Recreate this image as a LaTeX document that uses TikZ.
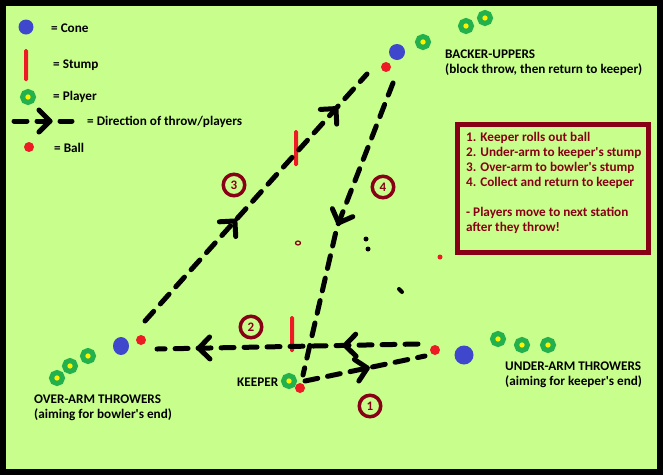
\documentclass[tikz,border=0pt]{standalone}
\usepackage{fontspec}
\setmainfont{Carlito}
\usetikzlibrary{decorations.markings, arrows.meta, shapes.geometric}

\definecolor{field}{RGB}{200,255,140}
\definecolor{coneblue}{RGB}{63,72,204}
\definecolor{ballred}{RGB}{237,28,36}
\definecolor{playergreen}{RGB}{34,177,76}
\definecolor{playeryellow}{RGB}{255,242,0}
\definecolor{boxred}{RGB}{136,0,21}

\begin{document}
\begin{tikzpicture}[x=1pt, y=-1pt,
    cone/.style={circle, fill=coneblue, inner sep=0pt, minimum size=16pt},
    ball/.style={circle, fill=ballred, inner sep=0pt, minimum size=10pt},
    player/.style={circle, fill=playeryellow, draw=playergreen, line width=5pt, inner sep=0pt, minimum size=11pt},
    stump/.style={rectangle, fill=ballred, inner sep=0pt, minimum width=4pt, minimum height=36pt, rounded corners=1.5pt},
    throw/.style={line width=5pt, line cap=round, dash pattern=on 13pt off 10pt},
    chevron/.style={postaction={decorate, decoration={markings, mark=at position #1 with {\draw[solid, line width=5pt, line cap=round, line join=round] (-11pt,-11pt) -- (0pt,0pt) -- (-11pt,11pt);}}}},
    numring/.style={circle, draw=boxred, line width=3.5pt, text=boxred, minimum size=21.5pt, inner sep=0pt, font=\bfseries\fontsize{13}{13}\selectfont},
    txt/.style={anchor=west, inner sep=0pt, font=\bfseries\fontsize{13.2}{15}\selectfont},
    block/.style={anchor=north west, align=left, inner sep=0pt, font=\bfseries\fontsize{13.2}{15}\selectfont}
]
\useasboundingbox (0,0) rectangle (663,475);
\fill[field] (0,0) rectangle (663,475);
\draw[line width=6pt] (3,3) rectangle (660,472);

% legend
\node[cone, minimum size=15pt] (legcone) at (26,27) {};
\node[txt] (legconetxt) at (51,28) {= Cone};
\node[stump, minimum height=32pt] (legstump) at (26,65) {};
\node[txt] (legstumptxt) at (53,65) {= Stump};
\node[player] (legplayer) at (28,97) {};
\node[txt] (legplayertxt) at (53,97) {= Player};
\coordinate (legA) at (14,121);
\coordinate (legB) at (72,121);
\draw[throw, chevron=0.62] (legA) -- (legB);
\node[txt] (legarrowtxt) at (87,122) {= Direction of throw/players};
\node[ball] (legball) at (29,147) {};
\node[txt] (legballtxt) at (54,148) {= Ball};

% backer-uppers
\node[cone] (bcone) at (397,52) {};
\node[ball] (bball) at (386,67) {};
\node[player] (bp1) at (423,42) {};
\node[player] (bp2) at (466,26) {};
\node[player] (bp3) at (485,18) {};
\node[block] (btxt) at (445,50) {BACKER-UPPERS\\(block throw, then return to keeper)};

% instructions
\draw[boxred, line width=5pt] (457.5,124.5) rectangle (648.5,252.5);
\node[block, text=boxred] (steps) at (466,132) {1. Keeper rolls out ball\\2. Under-arm to keeper\textquotesingle s stump\\3. Over-arm to bowler\textquotesingle s stump\\4. Collect and return to keeper\\[15pt]- Players move to next station\\after they throw!};

% over-arm throwers
\node[player] (op1) at (57,378) {};
\node[player] (op2) at (70,366) {};
\node[player] (op3) at (88,356) {};
\node[cone, ellipse, minimum width=16pt, minimum height=18pt] (ocone) at (121,346) {};
\node[ball] (oball) at (141,340) {};
\node[block] (otxt) at (34,395) {OVER-ARM THROWERS\\(aiming for bowler\textquotesingle s end)};

% keeper
\node[player] (keeper) at (289,381) {};
\node[ball] (kball) at (300,388) {};
\node[txt] (ktxt) at (237,382) {KEEPER};

% under-arm throwers
\node[ball] (uball) at (435,350) {};
\node[cone, minimum size=19pt] (ucone) at (464,355) {};
\node[player] (up1) at (498,339) {};
\node[player] (up2) at (522,345) {};
\node[player] (up3) at (548,345) {};
\node[block] (utxt) at (505,362) {UNDER-ARM THROWERS\\(aiming for keeper\textquotesingle s end)};

% stumps
\node[stump] (bowlerstump) at (296,148) {};
\node[stump] (keeperstump) at (292,334) {};

% throws
\coordinate (s3) at (145,321);
\coordinate (e3) at (367,74);
\draw[throw, chevron=0.405, chevron=0.86] (s3) -- (e3);

\coordinate (s4) at (393,83);
\coordinate (m4) at (337,227);
\coordinate (e4) at (303,375);
\draw[throw, chevron=0.49] (s4) -- (m4) -- (e4);

\coordinate (s1) at (305,381);
\coordinate (e1) at (425,356);
\draw[throw, chevron=0.52] (s1) -- (e1);

\coordinate (s2) at (418,344);
\coordinate (e2) at (157,349);
\draw[throw, chevron=0.28, chevron=0.84] (s2) -- (e2);

% step numbers
\node[numring] (n1) at (370,406) {1};
\node[numring] (n2) at (251,327) {2};
\node[numring] (n3) at (234,185) {3};
\node[numring] (n4) at (383,187) {4};

% stray marks
\draw[boxred, line width=1.2pt] (298,243) ellipse (2.5pt and 2pt);
\fill (366,239) circle (2.5pt);
\fill (368,249) circle (2.5pt);
\draw[line width=4pt, line cap=round] (399,289) -- (402,292);
\fill[ballred] (440,257) circle (2.5pt);
\end{tikzpicture}
\end{document}
